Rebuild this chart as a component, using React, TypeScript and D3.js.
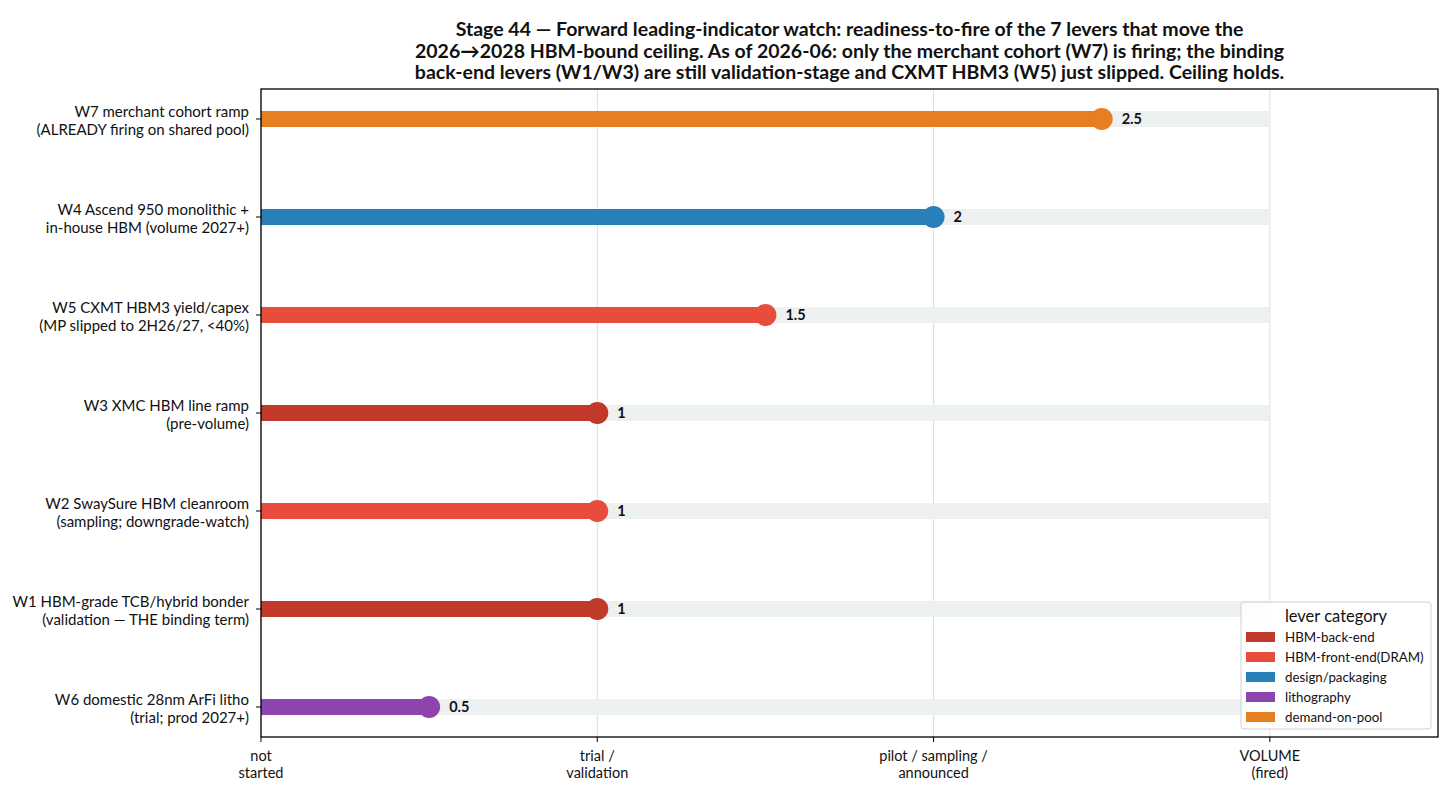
import React from "react";
import * as d3 from "d3";

// levers, top to bottom
const leverLines = [
  ["W7 merchant cohort ramp", "(ALREADY firing on shared pool)"],
  ["W4 Ascend 950 monolithic +", "in-house HBM (volume 2027+)"],
  ["W5 CXMT HBM3 yield/capex", "(MP slipped to 2H26/27, <40%)"],
  ["W3 XMC HBM line ramp", "(pre-volume)"],
  ["W2 SwaySure HBM cleanroom", "(sampling; downgrade-watch)"],
  ["W1 HBM-grade TCB/hybrid bonder", "(validation \u2014 THE binding term)"],
  ["W6 domestic 28nm ArFi litho", "(trial; prod 2027+)"],
];
const readiness = [2.5, 2, 1.5, 1, 1, 1, 0.5];
const leverCategory = [
  "demand-on-pool",
  "design/packaging",
  "HBM-front-end(DRAM)",
  "HBM-back-end",
  "HBM-front-end(DRAM)",
  "HBM-back-end",
  "lithography",
];

const categories = [
  "HBM-back-end",
  "HBM-front-end(DRAM)",
  "design/packaging",
  "lithography",
  "demand-on-pool",
];
const categoryColors = ["#c0392b", "#e74c3c", "#2980b9", "#8e44ad", "#e67e22"];

const stageTicks = [0, 1, 2, 3];
const stageLabels = [
  ["not", "started"],
  ["trial /", "validation"],
  ["pilot / sampling /", "announced"],
  ["VOLUME", "(fired)"],
];

const titleLines = [
  "Stage 44 \u2014 Forward leading-indicator watch: readiness-to-fire of the 7 levers that move the",
  "2026\u21922028 HBM-bound ceiling. As of 2026-06: only the merchant cohort (W7) is firing; the binding",
  "back-end levers (W1/W3) are still validation-stage and CXMT HBM3 (W5) just slipped. Ceiling holds.",
];

const W = 1456;
const H = 801;
const m = { top: 89, right: 18, bottom: 64, left: 261 };
const FONT = "Lato, 'Noto Sans', sans-serif";

export default function App() {
  const x = d3.scaleLinear().domain([0, 3.5]).range([m.left, W - m.right]);
  const y = d3
    .scaleLinear()
    .domain([-0.306, leverLines.length - 1 + 0.306])
    .range([m.top, H - m.bottom]);
  const color = d3.scaleOrdinal<string, string>().domain(categories).range(categoryColors);

  const barH = 16;
  const top = m.top;
  const bottom = H - m.bottom;
  const lx = 1241;
  const ly = 602;

  return (
    <svg width={W} height={H} style={{ position: "absolute", left: 0, top: 0, background: "#fff" }} fontFamily={FONT}>
      <rect x={0} y={0} width={W} height={H} fill="#fff" />
      {/* grid */}
      {stageTicks.map((t) => (
        <line key={t} x1={x(t)} x2={x(t)} y1={top} y2={bottom} stroke="#dcdcdc" strokeWidth={1} />
      ))}
      {/* rows */}
      {readiness.map((v, i) => (
        <g key={i}>
          <rect x={x(0)} y={y(i) - barH / 2} width={x(3) - x(0)} height={barH} fill="#ecf0f1" />
          <rect x={x(0)} y={y(i) - barH / 2} width={x(v) - x(0)} height={barH} fill={color(leverCategory[i])} />
          <circle cx={x(v)} cy={y(i)} r={11} fill={color(leverCategory[i])} />
          <text x={x(v) + 20} y={y(i)} dy="0.35em" fontSize={14.5} fontWeight="bold" fill="#111">
            {v}
          </text>
        </g>
      ))}
      {/* frame */}
      <rect x={m.left} y={top} width={W - m.right - m.left} height={bottom - top} fill="none" stroke="#000" strokeWidth={1.3} />
      {/* y ticks */}
      {leverLines.map((lines, i) => (
        <g key={i}>
          <line x1={m.left - 5} x2={m.left} y1={y(i)} y2={y(i)} stroke="#000" />
          <text x={m.left - 12} y={y(i)} textAnchor="end" fontSize={15} fill="#111">
            <tspan x={m.left - 12} dy={-2}>{lines[0]}</tspan>
            <tspan x={m.left - 12} dy={18}>{lines[1]}</tspan>
          </text>
        </g>
      ))}
      {/* x ticks */}
      {stageTicks.map((t, i) => (
        <g key={t}>
          <line x1={x(t)} x2={x(t)} y1={bottom} y2={bottom + 5} stroke="#000" />
          <text x={x(t)} y={bottom + 24} textAnchor="middle" fontSize={14.5} fill="#111">
            <tspan x={x(t)}>{stageLabels[i][0]}</tspan>
            <tspan x={x(t)} dy={17}>{stageLabels[i][1]}</tspan>
          </text>
        </g>
      ))}
      {/* title */}
      <text x={(m.left + W - m.right) / 2} y={36} textAnchor="middle" fontSize={19.5} fontWeight="bold" fill="#111">
        {titleLines.map((l, i) => (
          <tspan key={i} x={(m.left + W - m.right) / 2} dy={i === 0 ? 0 : 21.5}>
            {l}
          </tspan>
        ))}
      </text>
      {/* legend */}
      <g>
        <rect x={lx} y={ly} width={190} height={127} rx={3} fill="#fff" fillOpacity={0.85} stroke="#d0d0d0" />
        <text x={lx + 95} y={ly + 20} textAnchor="middle" fontSize={16.5} fill="#111">
          lever category
        </text>
        {categories.map((c, i) => (
          <g key={c}>
            <rect x={lx + 5} y={ly + 30 + i * 20} width={29} height={10} fill={color(c)} />
            <text x={lx + 44} y={ly + 35 + i * 20} dy="0.35em" fontSize={13.3} fill="#111">
              {c}
            </text>
          </g>
        ))}
      </g>
    </svg>
  );
}
